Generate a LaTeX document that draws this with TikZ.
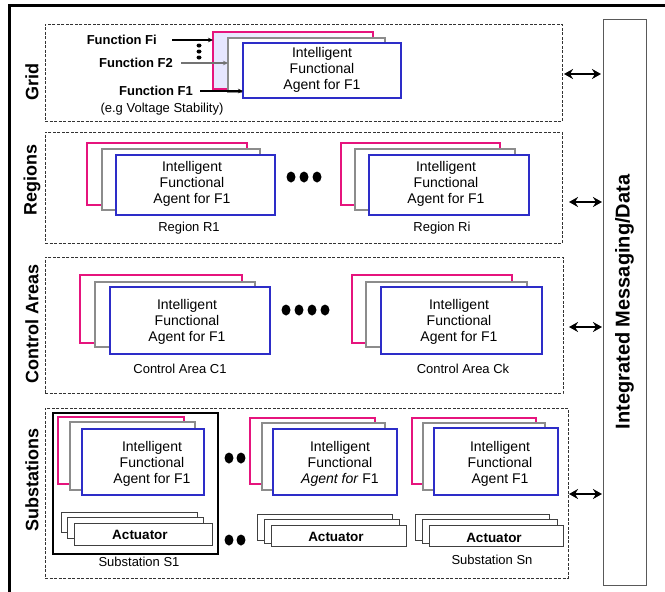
\documentclass[tikz,border=0pt]{standalone}
\usepackage{fontspec}
\setmainfont{Liberation Sans}
\usetikzlibrary{arrows.meta,shapes.geometric}
\definecolor{apink}{RGB}{230,20,125}
\definecolor{agray}{RGB}{140,140,140}
\definecolor{ablue}{RGB}{45,45,200}
\newcommand{\rbx}[6][]{\node[#1,inner sep=0pt,outer sep=0pt,minimum width={(#5-#3)*1pt},minimum height={(#6-#4)*1pt}] (#2) at ({(#3+#5)/2},{(#4+#6)/2}) {};}
\begin{document}
\begin{tikzpicture}[x=1pt,y=-1pt,
  pinkb/.style={draw=apink, line width=2.4pt, fill=white},
  grayb/.style={draw=agray, line width=2.4pt, fill=white},
  blueb/.style={draw=ablue, line width=2.4pt, fill=white},
  sect/.style={draw=black!80, line width=1pt, dash pattern=on 3pt off 1.5pt},
  actb/.style={draw=black!75, line width=0.9pt, fill=white},
  agtxt/.style={font=\fontsize{14}{16}\selectfont, align=center, inner sep=0pt},
  lbl/.style={font=\fontsize{13}{15}\selectfont, inner sep=0pt},
  fnl/.style={font=\bfseries\fontsize{13}{15}\selectfont, inner sep=0pt},
  actl/.style={font=\bfseries\fontsize{13.5}{15}\selectfont, inner sep=0pt},
  sectl/.style={font=\bfseries\fontsize{18}{20}\selectfont, rotate=90, inner sep=0pt},
  dbl/.style={line width=2.6pt, {Stealth[length=9pt,width=10pt]}-{Stealth[length=9pt,width=10pt]}},
  farr/.style={line width=1.1pt, -{Stealth[length=5pt,width=4.5pt]}},
  dotn/.style={ellipse, fill=black, inner sep=0pt, minimum width=9pt, minimum height=11pt},
  sdot/.style={ellipse, fill=black, inner sep=0pt, minimum width=5pt, minimum height=4pt}]
\useasboundingbox (0,0) rectangle (665,592);
% outer frame
\draw[line width=3pt] (9,592) -- (9,5) -- (665,5);
% integrated messaging bar
\rbx[draw=black!65, line width=0.9pt]{bar}{603}{19}{646}{585}
\node[font=\bfseries\fontsize{20}{22}\selectfont, rotate=90] (bart) at (bar.center) {Integrated Messaging/Data};
% section boxes
\rbx[sect]{gridbox}{45}{24}{562}{121}
\rbx[sect]{regbox}{45}{132}{562}{243}
\rbx[sect]{ctlbox}{45}{257}{563}{393}
\rbx[sect]{subbox}{45}{408}{568}{578}
% section labels
\node[sectl] (lgrid) at (32,82) {Grid};
\node[sectl] (lreg) at (32,180) {Regions};
\node[sectl] (lctl) at (32,324) {Control Areas};
\node[sectl] (lsub) at (32,480) {Substations};
% ---------- Grid ----------
\rbx[pinkb, left color=blue!10, right color=white]{gp}{213}{32}{373}{89}
\rbx[grayb]{gg}{228}{38}{385}{92}
\rbx[blueb]{gb}{243}{43}{401}{98}
\node[agtxt] (gt) at (322,70) {Intelligent\\Functional\\Agent for F1};
\node[fnl, anchor=east] (ffi) at (157,40) {Function Fi};
\node[fnl, anchor=east] (ff2) at (173,63) {Function F2};
\node[fnl, anchor=east] (ff1) at (193,91) {Function F1};
\node[lbl] (feg) at (162,109) {(e.g Voltage Stability)};
\draw[farr, shorten <=15pt] (ffi.east) -- (ffi.east -| gp.west);
\draw[farr, draw=black!55, shorten <=8pt] (ff2.east) -- (ff2.east -| gg.west);
\draw[farr, shorten <=7pt] (ff1.east) -- (ff1.east -| gb.west);
\node[sdot] (gd1) at (199,45.5) {};
\node[sdot] (gd2) at (199,51.5) {};
\node[sdot] (gd3) at (199,57.5) {};
% ---------- Regions ----------
\rbx[pinkb]{r1p}{87}{143}{247}{205}
\rbx[grayb]{r1g}{102}{149}{260}{210}
\rbx[blueb]{r1b}{116}{155}{275}{215}
\node[agtxt] (r1t) at (192,184) {Intelligent\\Functional\\Agent for F1};
\node[lbl] (r1l) at (189,228) {Region R1};
\rbx[pinkb]{r2p}{341}{143}{500}{205}
\rbx[grayb]{r2g}{355}{149}{515}{210}
\rbx[blueb]{r2b}{369}{155}{529}{215}
\node[agtxt] (r2t) at (446,184) {Intelligent\\Functional\\Agent for F1};
\node[lbl] (r2l) at (442,228) {Region Ri};
\node[dotn] (rd1) at (291,177) {};
\node[dotn] (rd2) at (304,177) {};
\node[dotn] (rd3) at (317,177) {};
% ---------- Control areas ----------
\rbx[pinkb]{c1p}{80}{275}{242}{343}
\rbx[grayb]{c1g}{95}{282}{255}{347}
\rbx[blueb]{c1b}{110}{287}{270}{354}
\node[agtxt] (c1t) at (187,322) {Intelligent\\Functional\\Agent for F1};
\node[lbl] (c1l) at (180,369) {Control Area C1};
\rbx[pinkb]{c2p}{352}{275}{512}{343}
\rbx[grayb]{c2g}{366}{282}{527}{347}
\rbx[blueb]{c2b}{381}{287}{542}{354}
\node[agtxt] (c2t) at (459,322) {Intelligent\\Functional\\Agent for F1};
\node[lbl] (c2l) at (463,369) {Control Area Ck};
\node[dotn] (cd1) at (286,310) {};
\node[dotn] (cd2) at (299,310) {};
\node[dotn] (cd3) at (312,310) {};
\node[dotn] (cd4) at (325,310) {};
% ---------- Substations ----------
\rbx[draw=black, line width=1.2pt]{s1box}{53}{413}{218}{554}
\node[lbl] (s1l) at (139,562) {Substation S1};
\rbx[pinkb]{s1p}{58}{417}{184}{484}
\rbx[grayb]{s1g}{70}{422}{195}{490}
\rbx[blueb]{s1b}{82}{429}{204}{495}
\node[agtxt] (s1t) at (152,464) {Intelligent\\Functional\\Agent for F1};
\rbx[actb]{s1a1}{61}{512}{197}{532}
\rbx[actb]{s1a2}{67}{517}{203}{538}
\rbx[actb]{s1a3}{74}{523}{212}{545}
\node[actl] (s1at) at (140,535) {Actuator};
\rbx[pinkb]{s2p}{250}{418}{375}{484}
\rbx[grayb]{s2g}{262}{423}{385}{490}
\rbx[blueb]{s2b}{273}{429}{397}{495}
\node[agtxt] (s2t) at (340,464) {Intelligent\\Functional\\\textit{Agent for} F1};
\rbx[actb]{s2a1}{257}{514}{392}{540}
\rbx[actb]{s2a2}{264}{519}{399}{543}
\rbx[actb]{s2a3}{271}{525}{406}{546}
\node[actl] (s2at) at (336,537) {Actuator};
\rbx[pinkb]{s3p}{412}{418}{536}{484}
\rbx[grayb]{s3g}{423}{423}{545}{490}
\rbx[blueb]{s3b}{434}{428}{558}{495}
\node[agtxt] (s3t) at (500,464) {Intelligent\\Functional\\Agent F1};
\rbx[actb]{s3a1}{415}{514}{549}{540}
\rbx[actb]{s3a2}{422}{519}{557}{543}
\rbx[actb]{s3a3}{429}{525}{563}{546}
\node[actl] (s3at) at (494,538) {Actuator};
\node[lbl] (s3l) at (492,560) {Substation Sn};
\node[dotn] (sd1) at (229,458) {};
\node[dotn] (sd2) at (241,458) {};
\node[dotn] (sd3) at (229,540) {};
\node[dotn] (sd4) at (241,540) {};
% ---------- double arrows ----------
\coordinate (ya) at (0,74);
\coordinate (yb) at (0,202);
\coordinate (yc) at (0,327);
\coordinate (yd) at (0,494);
\draw[dbl, shorten <=2pt, shorten >=2pt] (gridbox.east |- ya) -- (bar.west |- ya);
\draw[dbl, shorten <=7pt, shorten >=1pt] (regbox.east |- yb) -- (bar.west |- yb);
\draw[dbl, shorten <=6pt, shorten >=1pt] (ctlbox.east |- yc) -- (bar.west |- yc);
\draw[dbl, shorten <=1pt, shorten >=1pt] (subbox.east |- yd) -- (bar.west |- yd);
\end{tikzpicture}
\end{document}
